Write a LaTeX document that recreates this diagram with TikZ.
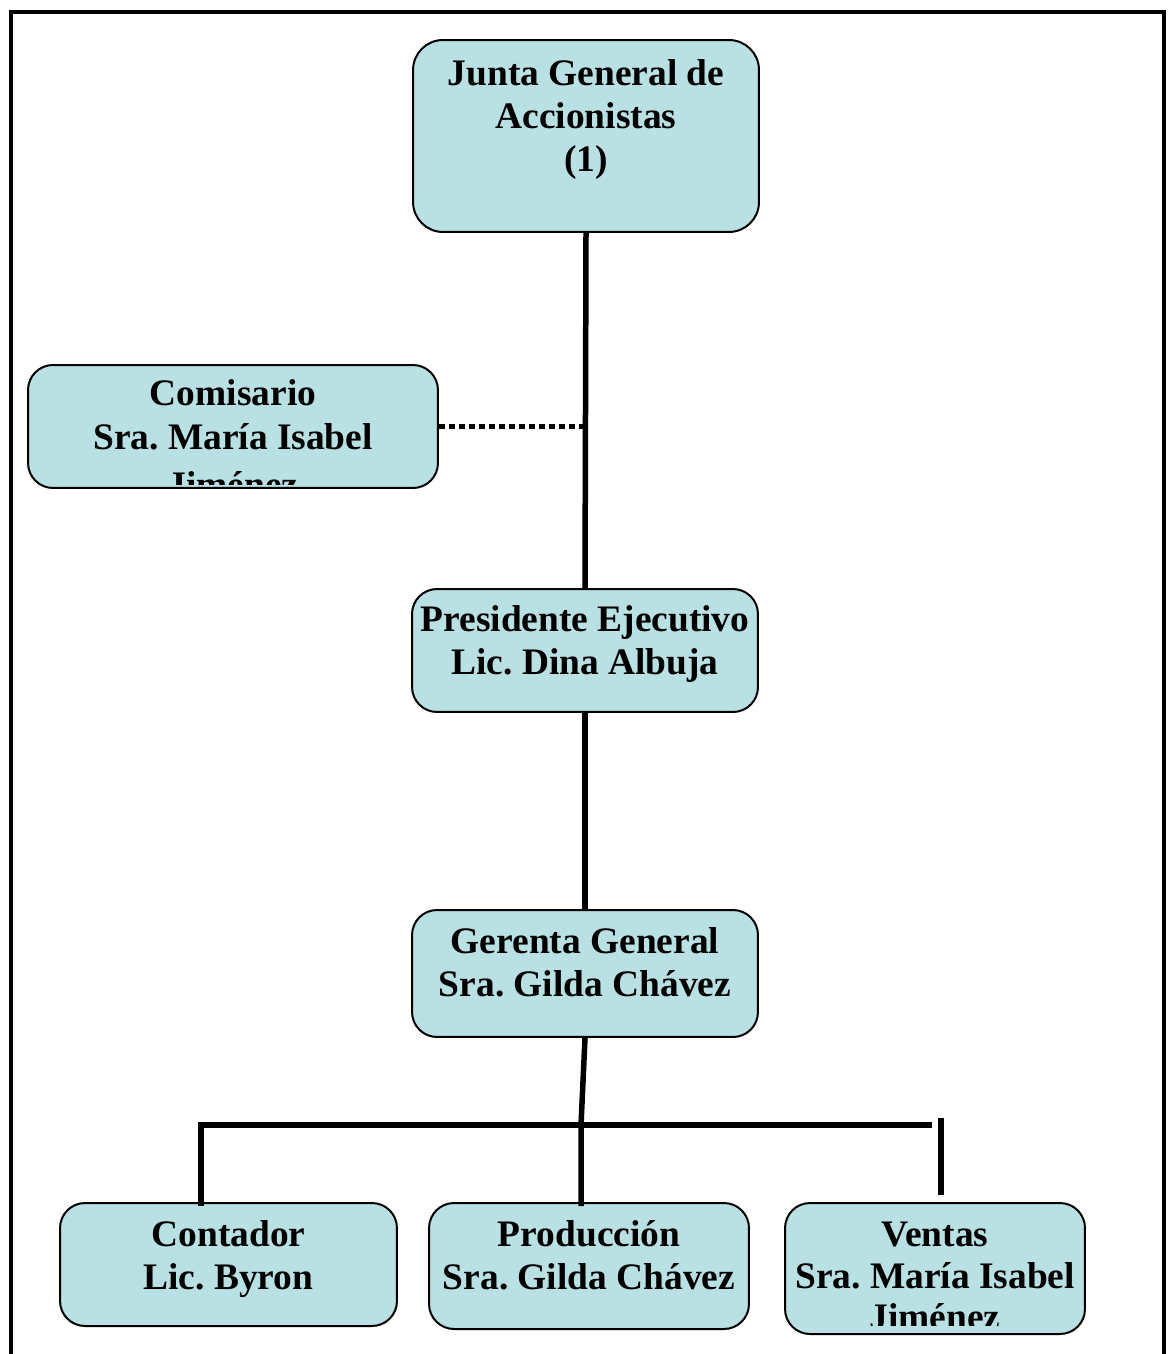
\documentclass[tikz,border=0pt]{standalone}
\usepackage{fontspec}
\setmainfont{Liberation Serif}
\frenchspacing
\definecolor{boxfill}{RGB}{185,224,227}
\begin{document}
\begin{tikzpicture}[x=0.02cm,y=-0.02cm,
  box/.style={draw=black, line width=0.04cm, fill=boxfill, rounded corners=0.5cm, inner sep=0pt},
  txt/.style={font=\fontsize{21.3}{25}\selectfont\bfseries, inner sep=0pt, anchor=base},
  link/.style={line width=0.11cm},
  staff/.style={line width=0.1cm, dash pattern=on 0.12cm off 0.08cm},
  frame/.style={line width=0.08cm}]
\useasboundingbox (0,0) rectangle (1170,1354);

% outer frame (open at the bottom)
\draw[frame] (11,1360) -- (11,12) -- (1164,12) -- (1164,1360);

% boxes
\node[box, rounded corners=0.6cm, minimum width=6.92cm, minimum height=3.84cm] (junta) at (586,136) {};
\node[box, minimum width=8.2cm, minimum height=2.46cm] (comis) at (233,426.5) {};
\node[box, minimum width=6.92cm, minimum height=2.46cm] (pres) at (585,650.5) {};
\node[box, minimum width=6.92cm, minimum height=2.54cm] (ger) at (585,973.5) {};
\node[box, minimum width=6.74cm, minimum height=2.46cm] (cont) at (228.5,1264.5) {};
\node[box, minimum width=6.4cm, minimum height=2.52cm] (prod) at (589,1266) {};
\node[box, minimum width=6cm, minimum height=2.62cm] (vent) at (935,1268.5) {};

% box texts
\node[txt] (junta-a) at (586,86) {Junta General de};
\node[txt] (junta-b) at (586,129) {Accionistas};
\node[txt] (junta-c) at (586,172) {(1)};

\node[txt] (comis-a) at (233,405) {Comisario};
\node[txt] (comis-b) at (233,449) {Sra. María Isabel};
\begin{scope}
  \clip (28,365) rectangle (438,484);
  \node[txt] (comis-c) at (233,497) {Jiménez};
\end{scope}

\node[txt] (pres-a) at (585,631) {Presidente Ejecutivo};
\node[txt] (pres-b) at (585,674) {Lic. Dina Albuja};

\node[txt] (ger-a) at (585,953) {Gerenta General};
\node[txt] (ger-b) at (585,996) {Sra. Gilda Chávez};

\node[txt] (cont-a) at (228.5,1246) {Contador};
\node[txt] (cont-b) at (228.5,1289) {Lic. Byron};

\node[txt] (prod-a) at (589,1246) {Producción};
\node[txt] (prod-b) at (589,1289) {Sra. Gilda Chávez};

\node[txt] (vent-a) at (935,1246) {Ventas};
\node[txt] (vent-b) at (935,1288) {Sra. María Isabel};
\begin{scope}
  \clip (785,1203) rectangle (1085,1325);
  \node[txt] (vent-c) at (935,1329) {Jiménez};
\end{scope}

% connectors
\draw[link] (junta.south) -- (pres.north);
\draw[staff] (comis.east) -- (comis.east -| junta.south);
\draw[link] (pres.south) -- (ger.north);

\coordinate (tee) at (581,1125);
\coordinate (hright) at (932,1125);
\coordinate (vtop) at (941,1118);
\coordinate (vbot) at (941,1195);
\draw[link] (ger.south) -- (tee) -- ([yshift=-0.08cm]tee |- prod.north);
\draw[link] ([yshift=-0.08cm]cont.north -| 201,0) |- (hright);
\draw[link] (vtop) -- (vbot);
\end{tikzpicture}
\end{document}
